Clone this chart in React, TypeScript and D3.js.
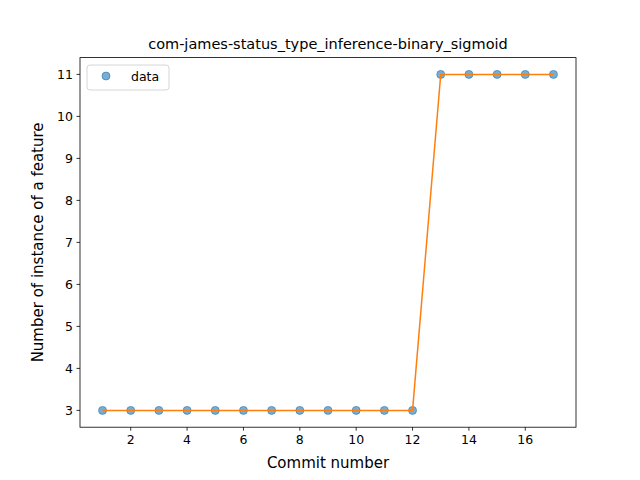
import * as d3 from "d3";

const commits: number[] = [1, 2, 3, 4, 5, 6, 7, 8, 9, 10, 11, 12, 13, 14, 15, 16, 17];
const counts: number[] = [3, 3, 3, 3, 3, 3, 3, 3, 3, 3, 3, 3, 11, 11, 11, 11, 11];
const xTicks: number[] = [2, 4, 6, 8, 10, 12, 14, 16];
const yTicks: number[] = [3, 4, 5, 6, 7, 8, 9, 10, 11];

function App() {
  const width = 640;
  const height = 480;
  const left = 80, right = 576, top = 57.6, bottom = 427.2;
  const font = "DejaVu Sans";

  const x = d3.scaleLinear().domain([0.2, 17.8]).range([left, right]);
  const y = d3.scaleLinear().domain([2.6, 11.4]).range([bottom, top]);
  const line = d3.line<number>().x((d, i) => x(commits[i])).y(d => y(d));

  return (
    <svg width={width} height={height} style={{ position: "absolute", left: 0, top: 0 }} fontFamily={font}>
      <rect width={width} height={height} fill="white" />
      {counts.map((c, i) => (
        <circle key={i} cx={x(commits[i])} cy={y(c)} r={4} fill="#1f77b4" fillOpacity={0.6} stroke="#1f77b4" strokeOpacity={0.6} strokeWidth={1} />
      ))}
      <path d={line(counts) || ""} fill="none" stroke="#ff7f0e" strokeWidth={1.5} />
      <rect x={left} y={top} width={right - left} height={bottom - top} fill="none" stroke="black" strokeWidth={0.8} />
      {xTicks.map(t => (
        <g key={t}>
          <line x1={x(t)} x2={x(t)} y1={bottom} y2={bottom + 3.5} stroke="black" strokeWidth={0.8} />
          <text x={x(t)} y={bottom + 17} textAnchor="middle" fontSize={12.5}>{t}</text>
        </g>
      ))}
      {yTicks.map(t => (
        <g key={t}>
          <line x1={left - 3.5} x2={left} y1={y(t)} y2={y(t)} stroke="black" strokeWidth={0.8} />
          <text x={left - 7} y={y(t) + 4.5} textAnchor="end" fontSize={12.5}>{t}</text>
        </g>
      ))}
      <text x={(left + right) / 2} y={top - 9} textAnchor="middle" fontSize={14.5}>
        com-james-status_type_inference-binary_sigmoid
      </text>
      <text x={(left + right) / 2} y={468} textAnchor="middle" fontSize={15}>Commit number</text>
      <text transform={`translate(43,${(top + bottom) / 2}) rotate(-90)`} textAnchor="middle" fontSize={15}>
        Number of instance of a feature
      </text>
      <g>
        <rect x={87} y={65} width={82} height={25} rx={3} fill="white" fillOpacity={0.8} stroke="#cccccc" strokeWidth={0.8} />
        <circle cx={106} cy={76} r={4} fill="#1f77b4" fillOpacity={0.6} stroke="#1f77b4" strokeOpacity={0.6} />
        <text x={131} y={80.5} fontSize={12.5}>data</text>
      </g>
    </svg>
  );
}

export default App;
